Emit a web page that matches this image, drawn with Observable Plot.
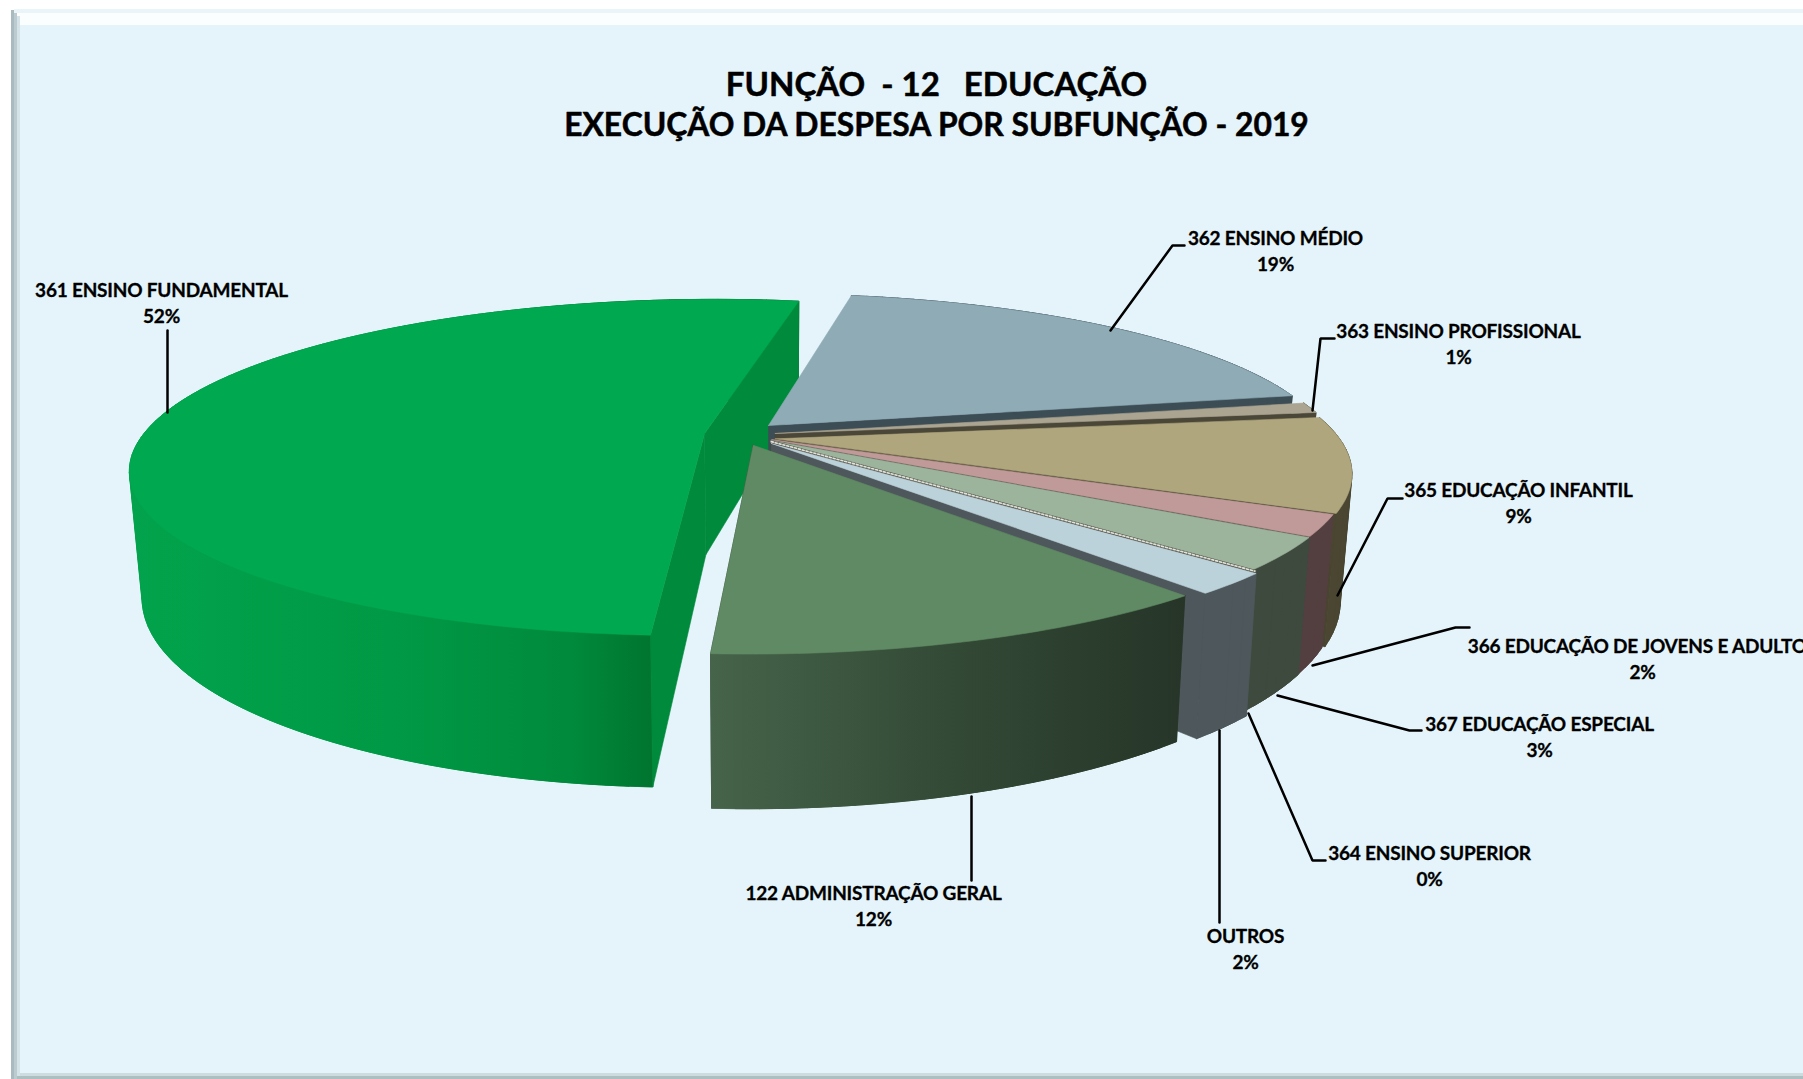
<!DOCTYPE html>
<html>
<head>
<meta charset="utf-8">
<script src="https://cdn.jsdelivr.net/npm/d3@7"></script>
<script src="https://cdn.jsdelivr.net/npm/@observablehq/plot@0.6"></script>
<style>html,body{margin:0;padding:0;background:#fff;overflow:hidden}svg{display:block}</style>
</head>
<body>
<div id="chart"></div>
<script>
// ---- data (clockwise, starting at 362)
const categories = ["362 ENSINO MÉDIO","363 ENSINO PROFISSIONAL","365 EDUCAÇÃO INFANTIL","366 EDUCAÇÃO DE JOVENS E ADULTOS","367 EDUCAÇÃO ESPECIAL","364 ENSINO SUPERIOR","OUTROS","122 ADMINISTRAÇÃO GERAL","361 ENSINO FUNDAMENTAL"];
const shares = [19,1,9,2,3,0,2,12,52];
// ---- styling
const topColors = ["#8eabb6","#aba491","#afa67d","#c09a98","#9bb49b","#77776c","#bcd2da","#5f8a63","#00a84f"];
const sideColors = ["#3c4d55","#4a4638","#48442f","#4f3e3f","#3f4a3f","#55554c","#4e575b","#263528","#008a3c"];
const rimColors = ["#3c4d55","#4a4638","#4a4632","#543f40","#3f4a3f","#55554c","#4e575b","url(#rim122)","url(#rim361)"];
const rim122Stops = [[0,"#46644a"],[.5,"#334a36"],[1,"#263528"]];
const rim361Stops = [[0,"#02a34c"],[.55,"#009844"],[.85,"#008a3b"],[1,"#00752f"]];
// ---- layout: explosion of each slice on the pie plane, label centres, leader lines
const explode = [[0,0],[.012,.05],[.012,.083],[.006,.088],[.004,.093],[.005,.1],[.005,.111],[-.027,.122],[-.114,.05]];
const labelX = [1275,1458,1518,1642,1539,1429,1245,873,161];
const labelY = [249,342,501,657,735,864,947,904,301];
const leaders = [
  [[1184,245],[1172,245],[1110,330]],
  [[1334,338],[1320,338],[1312,410]],
  [[1402,498],[1387,498],[1337,595]],
  [[1469,627],[1455,627],[1312,665]],
  [[1421,730],[1409,730],[1277,695]],
  [[1325,860],[1312,860],[1248,713]],
  [[1219,922],[1219,730]],
  [[971,880],[971,796]],
  [[167,330],[167,412]]
];
const titleLines = ["FUNÇÃO  - 12   EDUCAÇÃO","EXECUÇÃO DA DESPESA POR SUBFUNÇÃO - 2019"];
const titleSizes = [33,31.8];
const titleY = [85,125];
const panels = [
  {x1:11,x2:14,y1:10,y2:1079,c:"#a9bbbf"},
  {x1:14,x2:17,y1:12,y2:1079,c:"#bccbcf"},
  {x1:17,x2:20,y1:16,y2:1079,c:"#d5e3e8"},
  {x1:14,x2:1803,y1:9,y2:13,c:"#e9f5f8"},
  {x1:20,x2:1803,y1:13,y2:25,c:"#fbfeff"},
  {x1:20,x2:1803,y1:25,y2:1073,c:"#e4f4fa"},
  {x1:20,x2:1803,y1:1073,y2:1076,c:"#cddcdf"},
  {x1:17,x2:1803,y1:1076,y2:1079,c:"#aebfc1"}
];

// ---- projection of the tilted pie
const cx = 768, cy = 425, k = 555, kv = 158, p = .2, depth = 120, shrink = .98;
const startAngle = 10.3;
function project(X, Y, lower) {
  const den = 1 - p * Y;
  const x = cx + k * X / den, y = cy + kv * Y / den;
  return lower ? [cx + (x - cx) * shrink, y + depth / den] : [x, y];
}
const polys = [];
let polyId = 0;
function addPoly(points, fill) {
  const id = polyId++;
  for (const [x, y] of [...points, points[0]]) polys.push({id, x, y, fill});
}
const total = d3.sum(shares);
let cumulative = 0;
const slices = categories.map((name, i) => {
  const a0 = startAngle + cumulative / total * 360;
  cumulative += shares[i];
  return {i, name, a0, a1: startAngle + cumulative / total * 360};
});
function rimPoint(s, a, lower) {
  const t = a * Math.PI / 180;
  return project(Math.sin(t) + explode[s.i][0], -Math.cos(t) + explode[s.i][1], lower);
}
function apex(s, lower) { return project(explode[s.i][0], explode[s.i][1], lower); }
function arcAngles(s, step) {
  const n = Math.max(1, Math.ceil((s.a1 - s.a0) / step));
  return d3.range(n + 1).map(j => s.a0 + (s.a1 - s.a0) * j / n);
}
// the rim is laid in overlapping bands, far ones first, so it never folds over itself or shows seams
function addRim(s) {
  const angles = arcAngles(s, 2);
  const bands = d3.pairs(angles).sort((m, n) => Math.cos(n[0] * Math.PI / 180) - Math.cos(m[0] * Math.PI / 180));
  for (const [a, b] of bands) {
    const from = Math.max(s.a0, a - 2), to = Math.min(s.a1, b + 2), mid = (from + to) / 2;
    addPoly([rimPoint(s, from), rimPoint(s, mid), rimPoint(s, to), rimPoint(s, to, true), rimPoint(s, mid, true), rimPoint(s, from, true)], rimColors[s.i]);
  }
}
function endFace(s, a) { return [apex(s), rimPoint(s, a), rimPoint(s, a, true), apex(s, true)]; }
function topFace(s) { return [apex(s), ...arcAngles(s, 1).map(a => rimPoint(s, a))]; }

// painter's order: the big left slice first, then clockwise
const big = slices[8];
addRim(big);
addPoly(endFace(big, big.a1), sideColors[big.i]);
addPoly(endFace(big, big.a0), sideColors[big.i]);
addPoly(topFace(big), topColors[big.i]);
slices.slice(0, 8).forEach(s => {
  addPoly(endFace(s, s.a1), sideColors[s.i]);
  addRim(s);
  addPoly(topFace(s), topColors[s.i]);
});

// horizontal gradients of the two large rims, spanning each one's visible front
function gradient(id, stops, x1, x2) {
  const g = d3.create("svg:linearGradient").attr("id", id).attr("gradientUnits", "userSpaceOnUse")
    .attr("x1", x1).attr("x2", x2).attr("y1", 0).attr("y2", 0);
  stops.forEach(([o, c]) => g.append("stop").attr("offset", o).attr("stop-color", c));
  return g.node();
}
const frontXs = s => arcAngles(s, 1).filter(a => Math.cos(a * Math.PI / 180) < 0).map(a => rimPoint(s, a)[0]);
const defsMark = () => {
  const defs = d3.create("svg:defs");
  defs.append(() => gradient("rim122", rim122Stops, ...d3.extent(frontXs(slices[7]))));
  defs.append(() => gradient("rim361", rim361Stops, ...d3.extent(frontXs(slices[8]))));
  return defs.node();
};

const s364 = slices[5];
const spoke = [apex(s364), rimPoint(s364, s364.a0)].map(([x, y]) => ({x, y}));
const leaderRows = leaders.flatMap((pts, id) => pts.map(([x, y]) => ({id, x, y})));
const labelRows = categories.map((name, i) => ({x: labelX[i], y: labelY[i], text: `${name}\n${shares[i]}%`}));
const titleRows = titleLines.map((text, i) => ({x: 936, y: titleY[i], text, size: titleSizes[i]}));

const chart = Plot.plot({
  width: 1803, height: 1079, margin: 0,
  x: {domain: [0, 1803], range: [0, 1803], axis: null},
  y: {domain: [0, 1079], range: [0, 1079], axis: null},
  color: {type: "identity"},
  style: {background: "#ffffff"},
  marks: [
    defsMark,
    Plot.rect(panels, {x1: "x1", x2: "x2", y1: "y1", y2: "y2", fill: "c"}),
    Plot.line(polys, {x: "x", y: "y", z: "id", fill: "fill", stroke: "fill", strokeWidth: 0.6}),
    Plot.line(spoke, {x: "x", y: "y", stroke: "#6a6a60", strokeWidth: 3}),
    Plot.line(spoke, {x: "x", y: "y", stroke: "#dfe3da", strokeWidth: 1.6, strokeDasharray: "2,2"}),
    Plot.line(leaderRows, {x: "x", y: "y", z: "id", stroke: "#000", strokeWidth: 2.5, strokeLinejoin: "miter"}),
    Plot.text(labelRows, {x: "x", y: "y", text: "text", fill: "#000", stroke: "#000", strokeWidth: 0.3, fontFamily: "Lato", fontWeight: 700, fontSize: 19, lineHeight: 1.37, lineAnchor: "middle", textAnchor: "middle"}),
    Plot.text(titleRows, {x: "x", y: "y", text: "text", fontSize: "size", fill: "#000", stroke: "#000", strokeWidth: 0.5, fontFamily: "Lato", fontWeight: 700, lineAnchor: "middle", textAnchor: "middle"})
  ]
});
chart.querySelectorAll("text").forEach(t => {
  if (t.textContent.includes("%")) t.style.letterSpacing = "-0.2px";
});
document.getElementById("chart").appendChild(chart);
</script>
</body>
</html>
